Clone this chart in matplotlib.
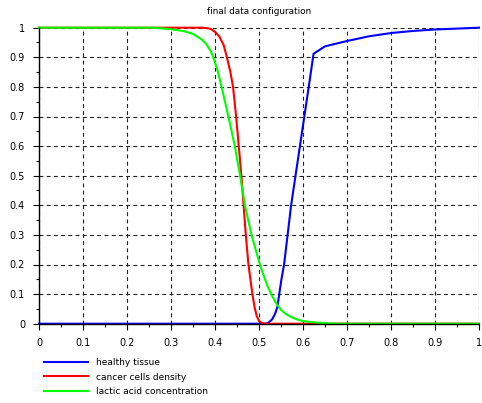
import matplotlib
matplotlib.use("Agg")
import matplotlib.pyplot as plt
import numpy as np

# healthy tissue
x_healthy = [0.0, 0.515, 0.522, 0.53, 0.537, 0.542, 0.546, 0.551, 0.557, 0.565, 0.573,
             0.583, 0.593, 0.603, 0.613, 0.624, 0.65, 0.7, 0.75, 0.8, 0.85, 0.9, 0.95, 1.0]
y_healthy = [0.0, 0.0, 0.004, 0.015, 0.035, 0.058, 0.1, 0.15, 0.2, 0.3, 0.4,
             0.5, 0.6, 0.7, 0.8, 0.912, 0.937, 0.955, 0.971, 0.982, 0.989, 0.994, 0.997, 1.0]

# cancer cells density
x_cancer = [0.0, 0.37, 0.38, 0.39, 0.4, 0.41, 0.42, 0.427, 0.435, 0.441, 0.448, 0.454,
            0.46, 0.465, 0.47, 0.476, 0.485, 0.49, 0.495, 0.5, 0.506, 0.515, 1.0]
y_cancer = [1.0, 1.0, 0.999, 0.996, 0.986, 0.97, 0.94, 0.9, 0.85, 0.8, 0.7, 0.6,
            0.5, 0.4, 0.3, 0.2, 0.1, 0.055, 0.025, 0.01, 0.002, 0.0, 0.0]

# lactic acid concentration
x_lactic = [0.0, 0.26, 0.3, 0.33, 0.35, 0.37, 0.38, 0.39, 0.396, 0.405, 0.415, 0.425,
            0.432, 0.445, 0.457, 0.468, 0.483, 0.502, 0.51, 0.52, 0.53, 0.542, 0.55,
            0.56, 0.57, 0.58, 0.59, 0.6, 0.62, 0.64, 0.66, 0.68, 1.0]
y_lactic = [1.0, 1.0, 0.995, 0.988, 0.979, 0.96, 0.945, 0.922, 0.9, 0.86, 0.8, 0.735,
            0.69, 0.6, 0.5, 0.4, 0.3, 0.2, 0.165, 0.125, 0.093, 0.062, 0.047,
            0.034, 0.025, 0.018, 0.013, 0.009, 0.005, 0.003, 0.001, 0.0, 0.0]

ticks = [0, 0.1, 0.2, 0.3, 0.4, 0.5, 0.6, 0.7, 0.8, 0.9, 1]
tick_labels = ["0", "0.1", "0.2", "0.3", "0.4", "0.5", "0.6", "0.7", "0.8", "0.9", "1"]

fig = plt.figure(figsize=(4.82, 4.03), dpi=100)
ax = fig.add_axes([39/482, 1 - 323.7/403, 440/482, 296/403])

ax.plot(x_healthy, y_healthy, color="#0000ff", lw=1.5, label="healthy tissue", clip_on=False, zorder=3)
ax.plot(x_cancer, y_cancer, color="#ff0000", lw=1.5, label="cancer cells density", clip_on=False, zorder=3)
ax.plot(x_lactic, y_lactic, color="#00ff00", lw=1.5, label="lactic acid concentration", clip_on=False, zorder=3)

ax.set_xlim(0, 1)
ax.set_ylim(0, 1)
ax.set_xticks(ticks)
ax.set_xticklabels(tick_labels)
ax.set_yticks(ticks)
ax.set_yticklabels(tick_labels)
ax.set_xticks(np.arange(0.05, 1, 0.1), minor=True)
ax.set_yticks(np.arange(0.05, 1, 0.1), minor=True)
ax.tick_params(which="major", length=4, width=0.8, labelsize=7, pad=6, colors="black")
ax.tick_params(which="minor", length=2, width=0.8)

for s in ["top", "right"]:
    ax.spines[s].set_visible(False)
for s in ["left", "bottom"]:
    ax.spines[s].set_linewidth(1.0)
    ax.spines[s].set_zorder(4)

ax.grid(True, which="major", color="#202020", lw=0.8, linestyle=(0, (3.5, 3)))
ax.set_axisbelow(True)

ax.set_title("final data configuration", fontsize=6.4, pad=10)

fig.legend(loc="upper left", bbox_to_anchor=(44/482, 1 - 358/403), bbox_transform=fig.transFigure,
           frameon=False, fontsize=6.5, borderpad=0, borderaxespad=0, handlelength=4.87,
           handletextpad=0.89, labelspacing=0.62)

fig.savefig("out.png", dpi=100)
